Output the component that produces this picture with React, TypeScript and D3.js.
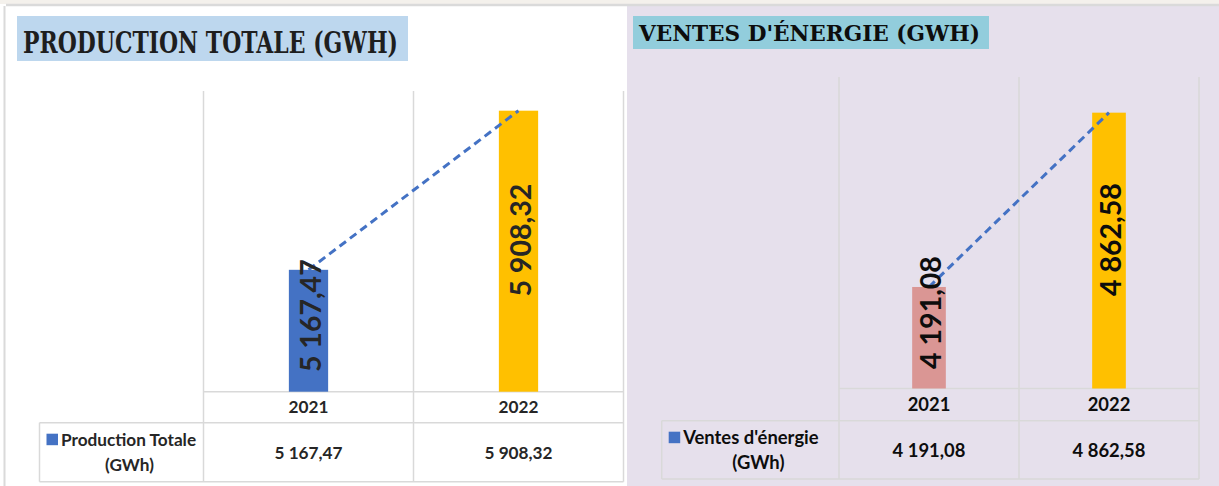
import React from "react";
import * as d3 from "d3";

const WIDTH = 1219;
const HEIGHT = 486;

// data
const years = ["2021", "2022"];
const productionValues = [5167.47, 5908.32];
const salesValues = [4191.08, 4862.58];
const productionDomain = [4600, 6000];
const salesDomain = [3800, 5000];

const frFormat = d3.formatLocale({
  decimal: ",",
  thousands: " ",
  grouping: [3],
  currency: ["", " €"],
}).format(",.2f");

const GRID = "#D9D9D9";
const LABEL_FONT = "Lato, 'Open Sans', sans-serif";
const TITLE_FONT = "'DejaVu Serif', serif";

type PanelProps = {
  title: string;
  titleBox: { x: number; y: number; w: number; h: number; fill: string };
  titleText: { x: number; y: number; size: number; len: number; color: string };
  values: number[];
  domain: number[];
  barColors: string[];
  legendLabel: string;
  bandLeft: number;
  bandRight: number;
  plotTop: number;
  axisY: number;
  rowY: number;
  tableBottom: number;
  legendLeft: number;
  textColor: string;
  fontScale: number;
};

const Panel = (p: PanelProps) => {
  const x = d3.scaleBand().domain(years).range([p.bandLeft, p.bandRight]);
  const y = d3.scaleLinear().domain(p.domain).range([p.axisY, p.plotTop]);
  const barW = x.bandwidth() * 0.187;
  const center = (yr: string) => (x(yr) ?? 0) + x.bandwidth() / 2;

  const points: [number, number][] = years.map((yr, i) => [center(yr), y(p.values[i])]);
  const trend = d3.line()(points) ?? "";

  const labelSize = 28.5;
  const labelLen = 112;
  const gridXs = [p.bandLeft, ...years.map((yr) => (x(yr) ?? 0) + x.bandwidth())];
  const tableFont = 17.2 * p.fontScale;

  return (
    <g>
      {/* title */}
      <rect x={p.titleBox.x} y={p.titleBox.y} width={p.titleBox.w} height={p.titleBox.h} fill={p.titleBox.fill} />
      <text
        x={p.titleText.x}
        y={p.titleText.y}
        fontFamily={TITLE_FONT}
        fontWeight="bold"
        fontSize={p.titleText.size}
        fill={p.titleText.color}
        textLength={p.titleText.len}
        lengthAdjust="spacingAndGlyphs"
      >
        {p.title}
      </text>

      {/* vertical gridlines running through the table */}
      {gridXs.map((gx, i) => (
        <line key={i} x1={gx} x2={gx} y1={p.plotTop} y2={p.tableBottom} stroke={GRID} strokeWidth={1.5} />
      ))}
      <line x1={p.bandLeft} x2={p.bandRight} y1={p.axisY} y2={p.axisY} stroke={GRID} strokeWidth={1.5} />
      <line x1={p.legendLeft} x2={p.bandRight} y1={p.rowY} y2={p.rowY} stroke={GRID} strokeWidth={1.5} />
      <line x1={p.legendLeft} x2={p.bandRight} y1={p.tableBottom} y2={p.tableBottom} stroke={GRID} strokeWidth={1.5} />
      <line x1={p.legendLeft} x2={p.legendLeft} y1={p.rowY} y2={p.tableBottom} stroke={GRID} strokeWidth={1.5} />

      {/* bars */}
      {years.map((yr, i) => (
        <rect
          key={yr}
          x={center(yr) - barW / 2}
          y={y(p.values[i])}
          width={barW}
          height={p.axisY - y(p.values[i])}
          fill={p.barColors[i]}
        />
      ))}

      {/* trend line */}
      <path d={trend} fill="none" stroke="#4472C4" strokeWidth={3} strokeDasharray="8,5" />

      {/* rotated data labels */}
      {years.map((yr, i) => {
        const top = y(p.values[i]);
        const mid = (top + p.axisY) / 2 - 11;
        const cy = Math.min(mid, p.axisY - 20 - labelLen / 2);
        const cx = center(yr) + 12;
        return (
          <text
            key={yr}
            transform={`translate(${cx},${cy}) rotate(-90)`}
            textAnchor="middle"
            fontFamily={LABEL_FONT}
            fontWeight="bold"
            fontSize={labelSize}
            fill={p.textColor}
          >
            {frFormat(p.values[i])}
          </text>
        );
      })}

      {/* table: categories */}
      {years.map((yr) => (
        <text
          key={yr}
          x={center(yr)}
          y={(p.axisY + p.rowY) / 2 + tableFont * 0.36}
          textAnchor="middle"
          fontFamily={LABEL_FONT}
          fontWeight="bold"
          fontSize={tableFont}
          fill={p.textColor}
        >
          {yr}
        </text>
      ))}
      {/* table: values */}
      {years.map((yr, i) => (
        <text
          key={yr}
          x={center(yr)}
          y={(p.rowY + p.tableBottom) / 2 + tableFont * 0.4}
          textAnchor="middle"
          fontFamily={LABEL_FONT}
          fontWeight="bold"
          fontSize={tableFont}
          fill={p.textColor}
        >
          {frFormat(p.values[i])}
        </text>
      ))}
      {/* legend key */}
      <rect x={p.legendLeft + 7} y={p.rowY + 11} width={11.5} height={11.5} fill="#4472C4" />
      <text
        x={p.legendLeft + 21.5}
        y={p.rowY + 23.5}
        fontFamily={LABEL_FONT}
        fontWeight="bold"
        fontSize={tableFont}
        fill={p.textColor}
      >
        {p.legendLabel}
      </text>
      <text
        x={(p.legendLeft + p.bandLeft) / 2 + 8}
        y={p.rowY + 48}
        textAnchor="middle"
        fontFamily={LABEL_FONT}
        fontWeight="bold"
        fontSize={tableFont}
        fill={p.textColor}
      >
        (GWh)
      </text>
    </g>
  );
};

export default function App() {
  return (
    <svg
      width={WIDTH}
      height={HEIGHT}
      style={{ position: "absolute", left: 0, top: 0, display: "block" }}
    >
      <rect x={0} y={0} width={WIDTH} height={HEIGHT} fill="#FFFFFF" />
      <rect x={0} y={0} width={WIDTH} height={4} fill="#F4F1EC" />
      {/* right background */}
      <rect x={627} y={4} width={WIDTH - 627} height={HEIGHT - 4} fill="#E6E0EC" />
      {/* frame lines */}
      <line x1={6} x2={WIDTH} y1={5} y2={5} stroke="#DADADA" strokeWidth={2.5} />
      <line x1={4.5} x2={4.5} y1={6} y2={HEIGHT} stroke="#DADADA" strokeWidth={2} />

      <Panel
        title="PRODUCTION TOTALE (GWH)"
        titleBox={{ x: 17, y: 16, w: 391, h: 45, fill: "#BDD7EE" }}
        titleText={{ x: 23, y: 53, size: 29, len: 375, color: "#1E1E1E" }}
        values={productionValues}
        domain={productionDomain}
        barColors={["#4472C4", "#FFC000"]}
        legendLabel="Production Totale"
        bandLeft={203.5}
        bandRight={623.5}
        plotTop={91}
        axisY={391.7}
        rowY={422.7}
        tableBottom={481.7}
        legendLeft={39.5}
        textColor="#262626"
        fontScale={1}
      />
      <Panel
        title="VENTES D'ÉNERGIE (GWH)"
        titleBox={{ x: 633, y: 16, w: 356, h: 33, fill: "#92CDDC" }}
        titleText={{ x: 639, y: 40.5, size: 23, len: 341, color: "#0D0D0D" }}
        values={salesValues}
        domain={salesDomain}
        barColors={["#DA9694", "#FFC000"]}
        legendLabel="Ventes d'énergie"
        bandLeft={839}
        bandRight={1199}
        plotTop={77}
        axisY={388.5}
        rowY={420.7}
        tableBottom={479}
        legendLeft={661.7}
        textColor="#0D0D0D"
        fontScale={1.07}
      />
    </svg>
  );
}
